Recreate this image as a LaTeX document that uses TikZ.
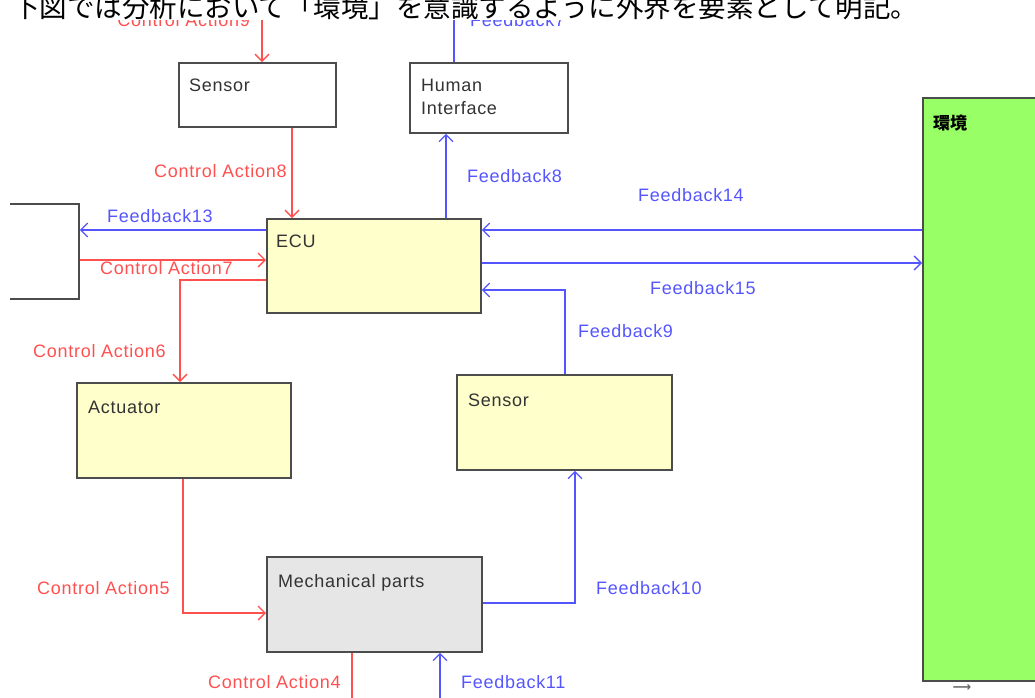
\documentclass[tikz,border=0pt]{standalone}
\usepackage{fontspec}
\setmainfont[LetterSpace=4.0]{Liberation Sans}
\newfontfamily\jpfont{Noto Sans CJK JP}
\newfontfamily\symfont{DejaVu Sans}
\usetikzlibrary{arrows.meta,positioning}

\definecolor{caRed}{HTML}{FF5050}
\definecolor{fbBlue}{HTML}{5555FF}
\definecolor{ecuYel}{HTML}{FFFFCC}
\definecolor{mechGray}{HTML}{E6E6E6}
\definecolor{envGreen}{HTML}{99FF66}

\begin{document}
\begin{tikzpicture}[x=1pt,y=-1pt,
    >={Straight Barb[length=7pt,width=14pt]},
    blk/.style={draw=black!70,line width=1.8pt,anchor=north west,inner sep=0pt},
    txt/.style={anchor=base west,inner sep=0pt,text=black!80,font=\fontsize{18}{23}\selectfont},
    ca/.style={draw=caRed,line width=1.3pt},
    fb/.style={draw=fbBlue,line width=1.3pt},
    calbl/.style={text=caRed,inner sep=0pt,font=\fontsize{18}{23}\selectfont},
    fblbl/.style={text=fbBlue,inner sep=0pt,font=\fontsize{18}{23}\selectfont}]

    \useasboundingbox (0,0) rectangle (1035,697);
    \clip (0,0) rectangle (1035,697);

    \node[anchor=base west,inner sep=0pt,font=\jpfont\fontsize{27.5}{30}\selectfont] (head) at (12,17)
        {下図では分析において「環境」を意識するように外界を要素として明記。};

    \begin{scope}
        \clip (0,20) rectangle (1035,697);

        % blocks
        \node[blk,fill=white,minimum width=157pt,minimum height=64pt] (sensA) at (178,62) {};
        \node[blk,fill=white,minimum width=158pt,minimum height=70pt] (hmi) at (409,62) {};
        \node[blk,fill=ecuYel,minimum width=214pt,minimum height=94pt] (ecu) at (266,218) {};
        \node[blk,fill=ecuYel,minimum width=214pt,minimum height=95pt] (act) at (76,382) {};
        \node[blk,fill=ecuYel,minimum width=215pt,minimum height=95pt] (sensB) at (456,374) {};
        \node[blk,fill=mechGray,minimum width=215pt,minimum height=95pt] (mech) at (266,556) {};
        \node[blk,fill=envGreen,minimum width=150pt,minimum height=583pt] (env) at (922,97) {};
        \begin{scope}
            \clip (10,20) rectangle (1035,697);
            \node[blk,fill=white,minimum width=98pt,minimum height=95pt] (ext) at (-20,203) {};
        \end{scope}

        \node[txt] (tsensA) at ([shift={(11,29)}]sensA.north west) {Sensor};
        \node[txt,anchor=north west,align=left] (thmi) at ([shift={(12,17)}]hmi.north west) {Human\\Interface};
        \node[txt] (tecu) at ([shift={(10,29)}]ecu.north west) {ECU};
        \node[txt] (tact) at ([shift={(12,31)}]act.north west) {Actuator};
        \node[txt] (tsensB) at ([shift={(12,32)}]sensB.north west) {Sensor};
        \node[txt] (tmech) at ([shift={(12,31)}]mech.north west) {Mechanical parts};
        \node[anchor=base west,inner sep=0pt,font=\jpfont\bfseries\fontsize{17}{18}\selectfont] (tenv)
            at ([shift={(11,32)}]env.north west) {環境};
        \node[inner sep=0pt,text=black!60,font=\symfont\bfseries\fontsize{13}{14}\selectfont] (envmark)
            at (962,688) {⟶};

        % control actions
        \coordinate (ca9) at (262,20);
        \draw[ca,->] (ca9) -- (ca9 |- sensA.north);
        \draw[ca,->] (sensA.south -| 292,0) -- (ecu.north -| 292,0);
        \draw[ca,->] (ext.east |- 0,260) -- (ecu.west |- 0,260);
        \draw[ca,->] (ecu.west |- 0,280) -| (act.north -| 180,0);
        \draw[ca,->] (act.south -| 183,0) |- (mech.west |- 0,613);
        \coordinate (ca4) at (352,710);
        \draw[ca,->] (mech.south -| ca4) -- (ca4);

        % feedback
        \coordinate (fb7) at (454,20);
        \draw[fb] (hmi.north -| fb7) -- (fb7);
        \draw[fb,->] (ecu.north -| 446,0) -- (hmi.south -| 446,0);
        \draw[fb,->] (ecu.west |- 0,230) -- (ext.east |- 0,230);
        \draw[fb,->] (env.west |- 0,230) -- (ecu.east |- 0,230);
        \draw[fb,->] (ecu.east |- 0,263) -- (env.west |- 0,263);
        \draw[fb,->] (sensB.north -| 565,0) |- (ecu.east |- 0,290);
        \draw[fb,->] (mech.east |- 0,603) -| (sensB.south -| 575,0);
        \coordinate (fb11) at (440,710);
        \draw[fb,->] (fb11) -- (mech.south -| fb11);

        % labels
        \node[calbl,anchor=base east] (lca9) at (250,26) {Control Action9};
        \node[fblbl,anchor=base west] (lfb7) at (470,26) {Feedback7};
        \node[calbl,anchor=base west] (lca8) at (154,177) {Control Action8};
        \node[fblbl,anchor=base west] (lfb8) at (467,182) {Feedback8};
        \node[fblbl,anchor=base west] (lfb13) at (107,222) {Feedback13};
        \node[calbl,anchor=base west] (lca7) at (100,274) {Control Action7};
        \node[calbl,anchor=base west] (lca6) at (33,357) {Control Action6};
        \node[fblbl,anchor=base west] (lfb14) at (638,201) {Feedback14};
        \node[fblbl,anchor=base west] (lfb15) at (650,294) {Feedback15};
        \node[fblbl,anchor=base west] (lfb9) at (578,337) {Feedback9};
        \node[calbl,anchor=base west] (lca5) at (37,594) {Control Action5};
        \node[fblbl,anchor=base west] (lfb10) at (596,594) {Feedback10};
        \node[calbl,anchor=base west] (lca4) at (208,688) {Control Action4};
        \node[fblbl,anchor=base west] (lfb11) at (461,688) {Feedback11};
    \end{scope}
\end{tikzpicture}
\end{document}
